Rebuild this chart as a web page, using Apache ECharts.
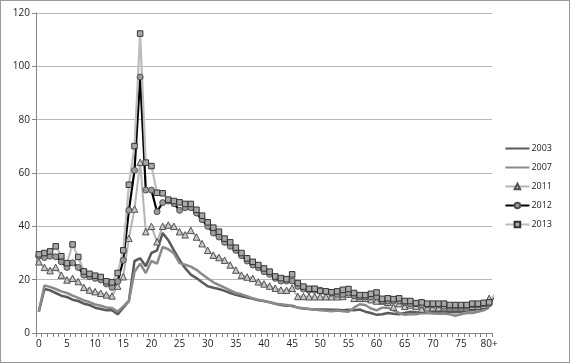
<!DOCTYPE html>
<html><head><meta charset="utf-8">
<script src="https://cdn.jsdelivr.net/npm/echarts@6/dist/echarts.min.js"></script>
<style>
html,body{margin:0;padding:0;background:#fff;}
#c{width:568px;height:361px;border:1px solid #9a9a9a;}
</style></head><body>
<div id="c"></div>
<script>
var categories = [];
for (var i = 0; i < 80; i++) categories.push(String(i));
categories.push('80+');

var yTicks = [0, 20, 40, 60, 80, 100, 120];

var s2003 = [8,16.5,16,15,14,13.5,12.5,12,11,10.5,9.5,9,8.5,8.5,7,9.5,12,27,28,25,30,31,37.5,34.8,31,27.4,24.3,21.9,20.6,19,17.5,17,16.5,15.8,15,14.3,13.8,13.3,12.8,12.3,12,11.5,11,10.5,10.2,10.2,9.5,9.2,9,8.8,8.8,8.8,8.7,8.7,8.5,8.7,8.5,8.8,8,7.5,6.8,7,7.5,7.2,7,7.5,8,7.8,7.5,7.5,7.8,7.8,8,8,7.8,8,8.5,8.5,9,9.2,9.8];
var s2007 = [8,17.8,17.3,16.5,15.6,15,14,13.2,12.2,11.6,10.7,10.2,9.6,9.4,8,10,12,23,26,22.5,27,26,32.3,31.4,29.9,26.2,25.6,24.9,23.7,22,20.5,19,18,17,16,15,14.5,13.8,13,12.5,12,11.5,11,10.8,10.5,10,9.6,9.3,9,8.8,8.5,8.3,8.2,8.4,8.2,8,9.5,10.8,10.5,9.2,8.5,9.5,9.5,8.5,7.5,6.8,7,7,7.5,7.5,7.3,7.2,7.3,7,6.5,7,7.5,7.5,8,8.5,9.5];
var s2011 = [26.7,24.6,23.4,24.6,21.7,19.9,20.5,19.3,17.1,16.1,15.5,14.9,14.3,13.9,17.6,21.1,35.5,46.5,64,38,40,34.2,40,40.5,40,38,36.8,38.5,36,33.5,31,29.2,28.3,27.3,25.5,23.6,21.7,21,20.5,19.2,18.4,17.6,16.8,16.1,16,16.8,13.7,13.7,13.6,13.6,13.6,13.6,13.6,13.6,13.7,14.6,13,13,13,12.5,12,12,11.5,9.7,11,10,10.5,10,9,9.5,9.5,9.5,9.5,9.5,9.5,9.5,9.5,10,10,10.5,13];
var s2012 = [28.8,28.3,28.8,28.6,26.7,24.6,26.3,24.6,21.7,21.1,20.5,19.9,18.4,17.1,19.3,27.3,46,61,96,53.6,53.6,45.5,48.9,49.5,48.5,46,47,47,45,42.5,40,37.5,36,34,32.5,31,29,27,25.5,24.5,23,22,20.5,19.5,19.5,19.5,17.5,16.5,16,16,16,15.5,15,14.5,14.5,15,14,13.5,13.5,13.5,13.5,12,12,12,12,11.5,11,11,10.5,10.5,10.5,10.5,10,10,10,10,10,10.5,10.5,11,11,14];
var s2013 = [29.5,30,30.6,32.5,28.8,26.2,33.2,28.5,23.1,22.2,21.5,21,19.4,19,22.5,31,55.6,70.1,112.3,63.9,62.6,52.6,52.4,50,49.5,49,48.4,48.4,46.2,44,41.5,39.5,38,35.4,34,32,30,28,26.7,25.5,24.2,23,21.2,20.6,20.2,22,18.7,17.4,16.6,16.6,15.8,15.6,15.3,15.6,16.2,16.5,15,14.2,14.2,14.7,15.2,12.8,13,12.7,13,12,12,11.2,11.5,11,11,11,11,10.5,10.5,10.5,10.5,11,11,11.3,11.5,14.4];

var chart = echarts.init(document.getElementById('c'), null, {renderer: 'canvas'});
var fontFam = 'Open Sans, DejaVu Sans, sans-serif';
function markerStyle(fill, border) {
  return {color: fill, borderColor: border, borderWidth: 1};
}
chart.setOption({
  animation: false,
  backgroundColor: '#fff',
  grid: {left: 35, right: 77, top: 12, bottom: 29, containLabel: false},
  legend: {
    orient: 'vertical',
    right: 12,
    top: 138,
    itemWidth: 24,
    itemHeight: 7,
    itemGap: 10,
    textStyle: {fontSize: 9, color: '#222', fontFamily: fontFam, padding: [0,0,0,-3]},
    data: [
      {name: '2003', itemStyle: {opacity: 0}},
      {name: '2007', itemStyle: {opacity: 0}},
      '2011', '2012', '2013'
    ]
  },
  xAxis: {
    type: 'category',
    data: categories,
    boundaryGap: true,
    axisLine: {lineStyle: {color: '#868686', width: 1}},
    axisTick: {show: true, interval: 0, length: 4, lineStyle: {color: '#868686'}},
    axisLabel: {interval: 4, fontSize: 10, color: '#222', fontFamily: fontFam, margin: 6},
    splitLine: {show: false}
  },
  yAxis: {
    type: 'value',
    min: yTicks[0],
    max: yTicks[yTicks.length - 1],
    interval: 20,
    axisLine: {show: true, lineStyle: {color: '#868686'}},
    axisTick: {show: true, length: 4, lineStyle: {color: '#868686'}},
    axisLabel: {fontSize: 10, color: '#222', fontFamily: fontFam, margin: 6},
    splitLine: {lineStyle: {color: '#b8b8b8', width: 1}}
  },
  series: [
    {name: '2003', type: 'line', data: s2003, showSymbol: false, symbol: 'none',
     lineStyle: {color: '#5a5a5a', width: 2.5}, itemStyle: {color: '#5a5a5a'}},
    {name: '2007', type: 'line', data: s2007, showSymbol: false, symbol: 'none',
     lineStyle: {color: '#8a8a8a', width: 2.5}, itemStyle: {color: '#8a8a8a'}},
    {name: '2011', type: 'line', data: s2011, symbol: 'triangle', symbolSize: 6.5, showAllSymbol: true,
     lineStyle: {color: '#b4b4b4', width: 2}, itemStyle: markerStyle('#c8c8c8', '#505050')},
    {name: '2012', type: 'line', data: s2012, symbol: 'circle', symbolSize: 6, showAllSymbol: true,
     lineStyle: {color: '#000', width: 2.2}, itemStyle: markerStyle('#9a9a9a', '#505050')},
    {name: '2013', type: 'line', data: s2013, symbol: 'rect', symbolSize: 5.5, showAllSymbol: true,
     lineStyle: {color: '#bdbdbd', width: 2.2}, itemStyle: markerStyle('#a8a8a8', '#333')}
  ]
});
</script>
</body></html>
